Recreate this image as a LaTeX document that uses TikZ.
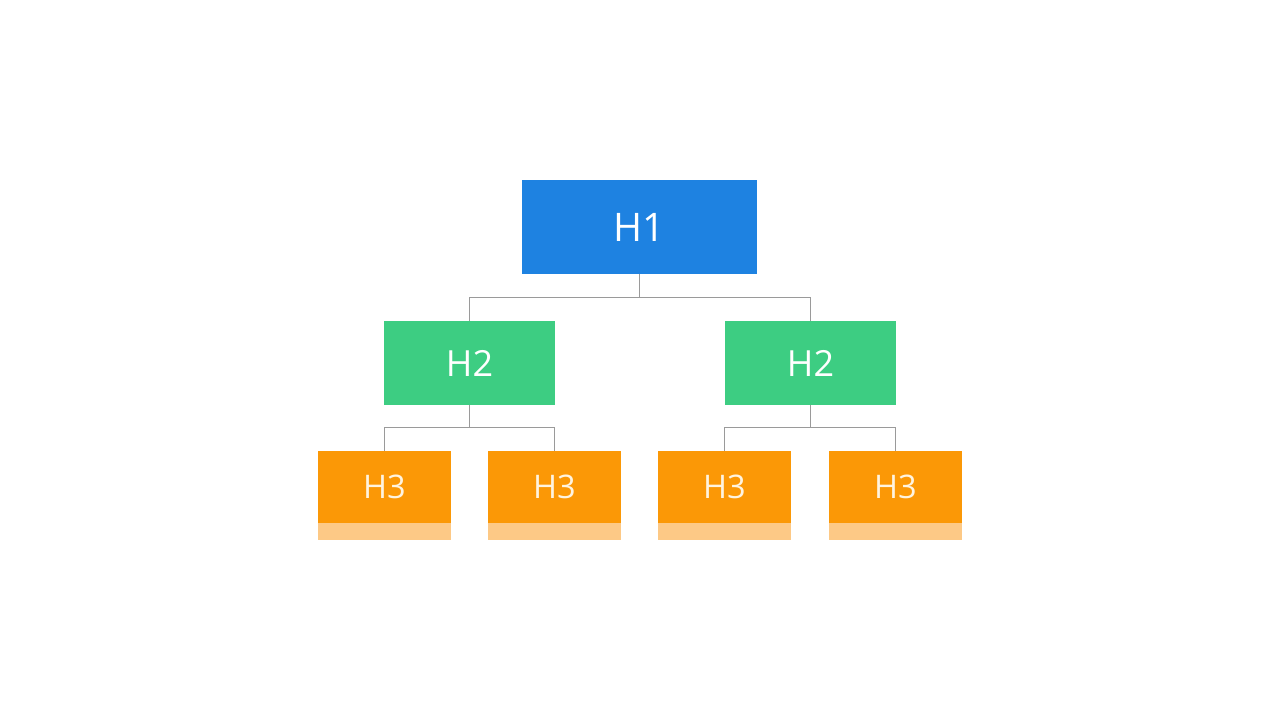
\documentclass[tikz,border=0pt]{standalone}
\usepackage{fontspec}
\setmainfont{Open Sans}
\usepackage{tikz}
\definecolor{hblue}{HTML}{1E82E1}
\definecolor{hgreen}{HTML}{3DCD82}
\definecolor{horange}{HTML}{FB9806}
\definecolor{hstrip}{HTML}{FDC986}
\definecolor{hline}{HTML}{9A9A9A}
\definecolor{hcream}{HTML}{FFF4E0}

\begin{document}
\begin{tikzpicture}[x=0.02cm,y=-0.02cm,
  box/.style={inner sep=0pt,text=white},
  hone/.style={box,fill=hblue,minimum width=4.7cm,minimum height=1.88cm,font=\fontsize{22.4}{26}\selectfont},
  htwo/.style={box,fill=hgreen,minimum width=3.42cm,minimum height=1.68cm,font=\fontsize{20.5}{24}\selectfont},
  hthree/.style={box,fill=horange,text=hcream,minimum width=2.66cm,minimum height=1.44cm,font=\fontsize{18.5}{22}\selectfont},
  link/.style={draw=hline,line width=0.6pt}]
  \useasboundingbox (0,0) rectangle (1280,720);
  \node [hone] (H1) at (639.5,227) {H1};
  \node [htwo] (H2a) at (469.5,363) {H2};
  \node [htwo] (H2b) at (810.5,363) {H2};
  \node [hthree] (H3a) at (384.5,487) {H3};
  \node [hthree] (H3b) at (554.5,487) {H3};
  \node [hthree] (H3c) at (724.5,487) {H3};
  \node [hthree] (H3d) at (895.5,487) {H3};
  \foreach \n in {H3a,H3b,H3c,H3d}
    \fill [hstrip] (\n.south west) rectangle ([yshift=-0.34cm]\n.south east);
  \draw [link] (H1.south) -- ++(0,23) -| (H2a.north);
  \draw [link] (H1.south) -- ++(0,23) -| (H2b.north);
  \draw [link] (H2a.south) -- ++(0,22) -| (H3a.north);
  \draw [link] (H2a.south) -- ++(0,22) -| (H3b.north);
  \draw [link] (H2b.south) -- ++(0,22) -| (H3c.north);
  \draw [link] (H2b.south) -- ++(0,22) -| (H3d.north);
\end{tikzpicture}
\end{document}
